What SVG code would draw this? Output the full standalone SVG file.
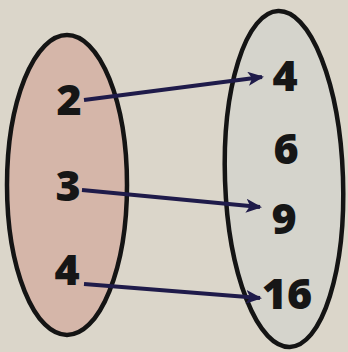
<svg xmlns="http://www.w3.org/2000/svg" width="348" height="352" viewBox="0 0 348 352">
<style>
.set{stroke:#141414;stroke-width:4.5}
.num{font-family:"Open Sans","DejaVu Sans",sans-serif;font-weight:800;font-size:43px;fill:#161616;text-anchor:middle}
.arr{stroke:#1f1b4a;stroke-width:4;fill:none;marker-end:url(#ah)}
</style>
<defs>
<marker id="ah" markerUnits="userSpaceOnUse" markerWidth="16" markerHeight="14" refX="14" refY="7" orient="auto">
<path d="M0,0 L16,7 L0,14 L4,7 Z" fill="#1f1b4a"/>
</marker>
</defs>
<rect width="348" height="352" fill="#dbd6ca"/>
<g id="domain">
<ellipse class="set" cx="67" cy="185" rx="60" ry="150" fill="#d5b6a9"/>
<text class="num" x="69" y="115">2</text>
<text class="num" x="68" y="201">3</text>
<text class="num" x="67" y="285">4</text>
</g>
<g id="range">
<ellipse class="set" cx="284" cy="179" rx="59" ry="168" fill="#d5d4cc" transform="rotate(-2 284 179)"/>
<text class="num" x="285" y="91">4</text>
<text class="num" x="286" y="164">6</text>
<text class="num" x="284" y="234">9</text>
<text class="num" x="287" y="309">16</text>
</g>
<g id="connectors">
<line class="arr" x1="84" y1="100" x2="262" y2="77"/>
<line class="arr" x1="82" y1="190" x2="260" y2="207"/>
<line class="arr" x1="84" y1="284" x2="260" y2="298"/>
</g>
</svg>
